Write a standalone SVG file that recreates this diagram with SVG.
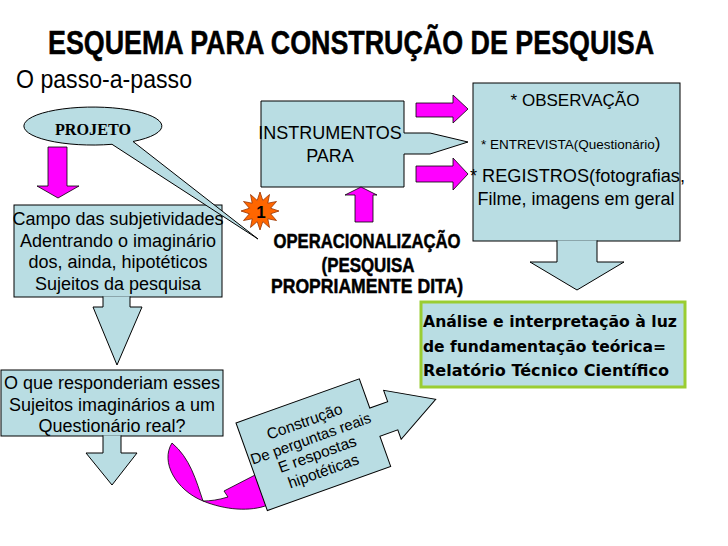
<svg xmlns="http://www.w3.org/2000/svg" width="728" height="546" viewBox="0 0 728 546">
<style>
.bx{fill:#b9dde3;stroke:#000;stroke-width:1}
.mg{fill:#ff00ff;stroke:#000;stroke-width:0.8}
.ar{font-family:"Liberation Sans",Arial,sans-serif;fill:#000}
.mid{text-anchor:middle}
.imp{font-family:"Liberation Sans",Arial,sans-serif;font-weight:bold;fill:#000;stroke:#000;stroke-width:0.5}
.vb{font-family:"DejaVu Sans",Verdana,sans-serif;font-weight:bold;fill:#000}
</style>
<rect width="728" height="546" fill="#fff"/>
<text class="imp" x="0" y="0" font-size="34" transform="translate(48,54) scale(0.79,1)">ESQUEMA PARA CONSTRUÇÃO DE PESQUISA</text>
<text class="ar" x="16" y="88" font-size="25" textLength="176" lengthAdjust="spacingAndGlyphs">O passo-a-passo</text>

<g id="campo">
<rect class="bx" x="14" y="205" width="208" height="92"/>
<text class="ar mid" x="118" y="225" font-size="18">Campo das subjetividades</text>
<text class="ar mid" x="118" y="247" font-size="18">Adentrando o imaginário</text>
<text class="ar mid" x="118" y="268" font-size="18">dos, ainda, hipotéticos</text>
<text class="ar mid" x="118" y="290" font-size="18">Sujeitos da pesquisa</text>
</g>

<g id="questionario">
<rect class="bx" x="1" y="370" width="222" height="66"/>
<text class="ar mid" x="112" y="389" font-size="18">O que responderiam esses</text>
<text class="ar mid" x="112" y="411" font-size="18">Sujeitos imaginários a um</text>
<text class="ar mid" x="112" y="432" font-size="18">Questionário real?</text>
</g>

<g id="projeto">
<path class="bx" d="M112,144.3 A69,19 0 1 1 133,141.5 L258,239 Z"/>
<text x="93" y="135" font-family="'Liberation Serif','Times New Roman',serif" font-weight="bold" font-size="16" text-anchor="middle" textLength="76" lengthAdjust="spacingAndGlyphs">PROJETO</text>
</g>

<g id="instrumentos">
<path class="bx" d="M261,101 H404 V133 H430 L468,142 L430,154 H404 V187 H261 Z"/>
<text class="ar mid" x="330" y="139" font-size="18">INSTRUMENTOS</text>
<text class="ar mid" x="330" y="162" font-size="18">PARA</text>
</g>

<g id="tecnicas">
<rect class="bx" x="473" y="83" width="207" height="158"/>
<text class="ar mid" x="575" y="106" font-size="17">* OBSERVAÇÃO</text>
<text class="ar" x="481" y="149" font-size="13.5">* ENTREVISTA(Questionário<tspan font-size="17">)</tspan></text>
<text class="ar" x="470" y="182" font-size="18" textLength="215" lengthAdjust="spacingAndGlyphs">* REGISTROS(fotografias,</text>
<text class="ar mid" x="576" y="205" font-size="18">Filme, imagens em geral</text>
</g>

<g id="analise">
<rect x="421" y="302" width="264" height="85" fill="#b9dde3" stroke="#9acd32" stroke-width="3"/>
<text class="vb" x="423" y="327" font-size="16" textLength="254" lengthAdjust="spacingAndGlyphs">Análise e interpretação à luz</text>
<text class="vb" x="423" y="352" font-size="16" textLength="243" lengthAdjust="spacingAndGlyphs">de fundamentação teórica=</text>
<text class="vb" x="423" y="376" font-size="16" textLength="246" lengthAdjust="spacingAndGlyphs">Relatório Técnico Científico</text>
</g>

<g id="badge">
<polygon points="260,192 262.8,200.4 269.5,194.5 267.8,203.2 276.5,201.5 270.6,208.2 279,211 270.6,213.8 276.5,220.5 267.8,218.8 269.5,227.5 262.8,221.6 260,230 257.2,221.6 250.5,227.5 252.2,218.8 243.5,220.5 249.4,213.8 241,211 249.4,208.2 243.5,201.5 252.2,203.2 250.5,194.5 257.2,200.4" fill="#ff6600" stroke="#993300" stroke-width="0.8"/>
<text class="ar mid" x="261" y="218" font-size="17" font-weight="bold">1</text>
</g>

<g id="operacionalizacao">
<text class="imp mid" x="367" y="248" font-size="20" textLength="187" lengthAdjust="spacingAndGlyphs">OPERACIONALIZAÇÃO</text>
<text class="imp mid" x="368" y="272" font-size="20" textLength="93" lengthAdjust="spacingAndGlyphs">(PESQUISA</text>
<text class="imp mid" x="367" y="293" font-size="20" textLength="192" lengthAdjust="spacingAndGlyphs">PROPRIAMENTE DITA)</text>
</g>

<g id="connectors">
<path class="mg" d="M48,147 H67 V186 H79 L58,198 L37,186 H48 Z"/>
<path class="bx" d="M103,296.4 V307 H93 L117,365 L142,307 H130 V296.4"/>
<path class="bx" d="M103,435.4 V453 H86 L112,485 L137,453 H121 V435.4"/>
<path class="bx" d="M557,240.4 V262 H530 L577,290 L624,262 H597 V240.4"/>
<path class="mg" d="M416,103 H453 V95 L468,109 L453,123 V117 H416 Z"/>
<path class="mg" d="M416,166 H453 V158 L468,174 L453,190 V182 H416 Z"/>
<path class="mg" d="M355,222 V195 H345 L361,187 L377,195 H373 V222 Z"/>
<path class="mg" d="M172,443 C160,462 176,490 203,501 C225,510 250,512 268,505 L280,498 L270,470 L257,474 L224,491 L228,497 C218,500 210,501 203,501 C196,480 190,458 172,443 Z"/>
</g>

<g id="construcao" transform="translate(236,423) rotate(-19.7)">
<path class="bx" d="M0,0 H131 V31 H150 V19 L196,45 L150,71 V61 H131 V93 H0 Z"/>
<text class="ar mid" x="65" y="27" font-size="15.5">Construção</text>
<text class="ar mid" x="65" y="45" font-size="15">De perguntas reais</text>
<text class="ar mid" x="66" y="62" font-size="15.5">E respostas</text>
<text class="ar mid" x="66" y="80" font-size="15.5">hipotéticas</text>
</g>
</svg>
